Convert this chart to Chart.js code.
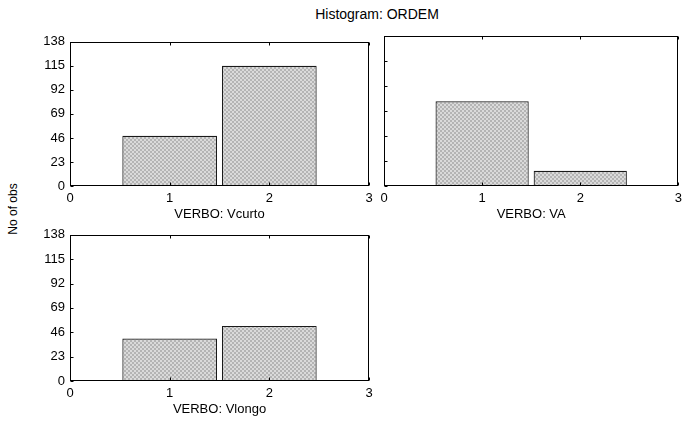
<!DOCTYPE html>
<html>
<head>
<meta charset="utf-8">
<title>Histogram: ORDEM</title>
<script src="https://cdn.jsdelivr.net/npm/chart.js@4.4.1/dist/chart.umd.min.js"></script>
<style>
  html, body { margin: 0; padding: 0; background: #fff; overflow: hidden; }
  body { width: 687px; height: 421px; position: relative; font-family: "Liberation Sans", Arial, sans-serif; }
  .panel { position: absolute; }
  #title { position: absolute; top: 6px; left: 70px; width: 614px; text-align: center; font-size: 14px; color: #000; }
  #ylabel { position: absolute; left: 13px; top: 209px; font-size: 12px; color: #000;
            transform: translate(-50%, -50%) rotate(-90deg); white-space: nowrap; }
</style>
</head>
<body>
<div id="title">Histogram: ORDEM</div>
<div id="ylabel">No of obs</div>
<div class="panel" style="left:0;top:29px;width:379px;height:193px"><canvas id="vcurto"></canvas></div>
<div class="panel" style="left:314px;top:28px;width:373px;height:194px"><canvas id="va"></canvas></div>
<div class="panel" style="left:0;top:222px;width:379px;height:195px"><canvas id="vlongo"></canvas></div>
<script>
const binCenters = [1, 2];
const vcurtoCounts = [48, 115];
const vaCounts = [78, 14];
const vlongoCounts = [40, 52];
const yMax = 138;
const yStep = 23;
const xMin = 0;
const xMax = 3;

Chart.defaults.font.family = '"Liberation Sans", Arial, sans-serif';
Chart.defaults.font.size = 13;
Chart.defaults.color = "#000";

// halftone grey fill like the old stats package
function makeHatch() {
  const c = document.createElement("canvas");
  c.width = 4;
  c.height = 4;
  const g = c.getContext("2d");
  g.fillStyle = "#dadada";
  g.fillRect(0, 0, 4, 4);
  g.fillStyle = "#b4b4b4";
  g.fillRect(0, 0, 2, 2);
  g.fillRect(2, 2, 2, 2);
  return g.createPattern(c, "repeat");
}
const hatch = makeHatch();

// box around the plot plus short inward ticks (left, bottom, top)
const frameTicks = {
  id: "frameTicks",
  afterDatasetsDraw(chart) {
    const { ctx, chartArea: a, scales } = chart;
    const L = Math.round(a.left) + 0.5;
    const R = Math.round(a.right) - 0.5;
    const T = Math.round(a.top) + 0.5;
    const B = Math.round(a.bottom) - 0.5;
    ctx.save();
    ctx.strokeStyle = "#000";
    ctx.lineWidth = 1;
    ctx.strokeRect(L, T, R - L, B - T);
    ctx.beginPath();
    for (const t of scales.x.ticks) {
      const px = Math.round(scales.x.getPixelForValue(t.value)) + 0.5;
      ctx.moveTo(px, B); ctx.lineTo(px, B - 3);
      ctx.moveTo(px, T); ctx.lineTo(px, T + 3);
    }
    for (const t of scales.y.ticks) {
      const py = Math.round(scales.y.getPixelForValue(t.value)) + 0.5;
      ctx.moveTo(L, py); ctx.lineTo(L + 3, py);
    }
    ctx.stroke();
    ctx.restore();
  },
};

function histogram(id, counts, axisTitle, showYLabels, padRight) {
  return new Chart(document.getElementById(id), {
    type: "bar",
    data: {
      datasets: [{
        data: binCenters.map((x, i) => ({ x: x, y: counts[i] })),
        backgroundColor: hatch,
        borderColor: "#1a1a1a",
        borderWidth: 1.2,
        barPercentage: 0.95,
        categoryPercentage: 1,
      }],
    },
    options: {
      responsive: true,
      maintainAspectRatio: false,
      animation: false,
      layout: { padding: { top: 8, right: padRight, left: 0, bottom: 0 } },
      plugins: { legend: { display: false }, tooltip: { enabled: false } },
      scales: {
        x: {
          type: "linear",
          min: xMin,
          max: xMax,
          offset: false,
          grid: { display: false, drawTicks: false },
          border: { display: false },
          ticks: { stepSize: 1, padding: 5, maxRotation: 0 },
          title: { display: true, text: axisTitle, padding: 0 },
          afterFit(scale) { scale.height = 36; },
        },
        y: {
          min: 0,
          max: yMax,
          grid: { display: false, drawTicks: false },
          border: { display: false },
          ticks: { stepSize: yStep, padding: 5, display: showYLabels },
          afterFit(scale) { scale.width = 70; },
        },
      },
    },
    plugins: [frameTicks],
  });
}

histogram("vcurto", vcurtoCounts, "VERBO: Vcurto", true, 10);
histogram("va", vaCounts, "VERBO: VA", false, 3);
histogram("vlongo", vlongoCounts, "VERBO: Vlongo", true, 10);
</script>
</body>
</html>
